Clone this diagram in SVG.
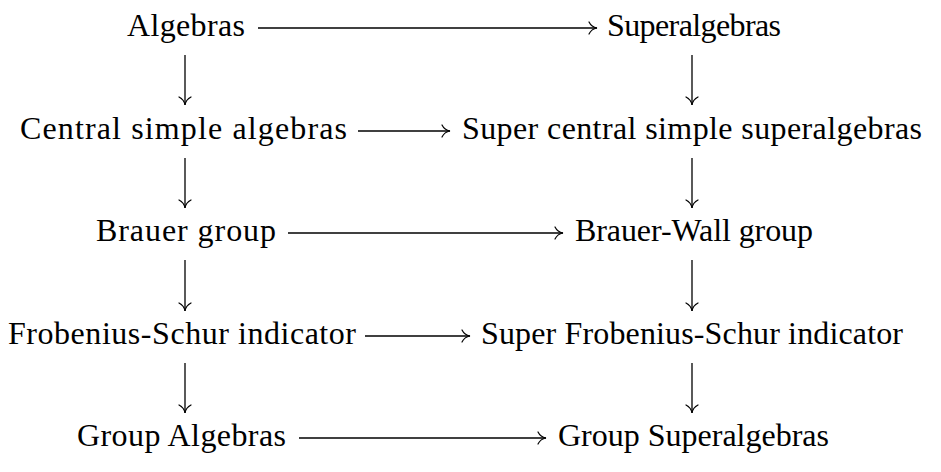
<svg xmlns="http://www.w3.org/2000/svg" width="941" height="472" viewBox="0 0 941 472">
<defs>
<style>
text{font-family:"Liberation Serif","Times New Roman",serif;font-size:32px;fill:#000;text-anchor:start}
.c line{stroke:#000;stroke-width:1.3;fill:none}
.h{fill:none;stroke:#000;stroke-width:1.2;stroke-linecap:round}
</style>
<marker id="ar" viewBox="-10 -7 12 14" markerWidth="12" markerHeight="14" refX="0" refY="0" orient="auto" markerUnits="userSpaceOnUse">
<path class="h" d="M-8,-6 C-6,-2 -3,-0.5 0,0 C-3,0.5 -6,2 -8,6"/>
</marker>
</defs>
<rect width="941" height="472" fill="#fff"/>
<g id="n1"><text x="127" y="36" textLength="118">Algebras</text></g>
<g id="n2"><text x="607" y="36" textLength="174">Superalgebras</text></g>
<g id="n3"><text x="20" y="139" textLength="327">Central simple algebras</text></g>
<g id="n4"><text x="462" y="139" textLength="460">Super central simple superalgebras</text></g>
<g id="n5"><text x="96" y="241" textLength="180">Brauer group</text></g>
<g id="n6"><text x="575" y="241" textLength="238">Brauer-Wall group</text></g>
<g id="n7"><text x="8" y="344" textLength="348">Frobenius-Schur indicator</text></g>
<g id="n8"><text x="481" y="344" textLength="422">Super Frobenius-Schur indicator</text></g>
<g id="n9"><text x="77" y="446" textLength="209">Group Algebras</text></g>
<g id="n10"><text x="558" y="446" textLength="271">Group Superalgebras</text></g>
<g id="connectors" class="c">
<line x1="258" y1="28" x2="597" y2="28" marker-end="url(#ar)"/>
<line x1="358" y1="131" x2="450" y2="131" marker-end="url(#ar)"/>
<line x1="288" y1="233" x2="563" y2="233" marker-end="url(#ar)"/>
<line x1="365" y1="336" x2="470" y2="336" marker-end="url(#ar)"/>
<line x1="299" y1="438" x2="546" y2="438" marker-end="url(#ar)"/>
<line x1="185" y1="55" x2="185" y2="105" marker-end="url(#ar)"/>
<line x1="185" y1="158" x2="185" y2="208" marker-end="url(#ar)"/>
<line x1="185" y1="260" x2="185" y2="311" marker-end="url(#ar)"/>
<line x1="185" y1="363" x2="185" y2="413" marker-end="url(#ar)"/>
<line x1="692" y1="55" x2="692" y2="105" marker-end="url(#ar)"/>
<line x1="692" y1="158" x2="692" y2="208" marker-end="url(#ar)"/>
<line x1="692" y1="260" x2="692" y2="311" marker-end="url(#ar)"/>
<line x1="692" y1="363" x2="692" y2="413" marker-end="url(#ar)"/>
</g>
</svg>
